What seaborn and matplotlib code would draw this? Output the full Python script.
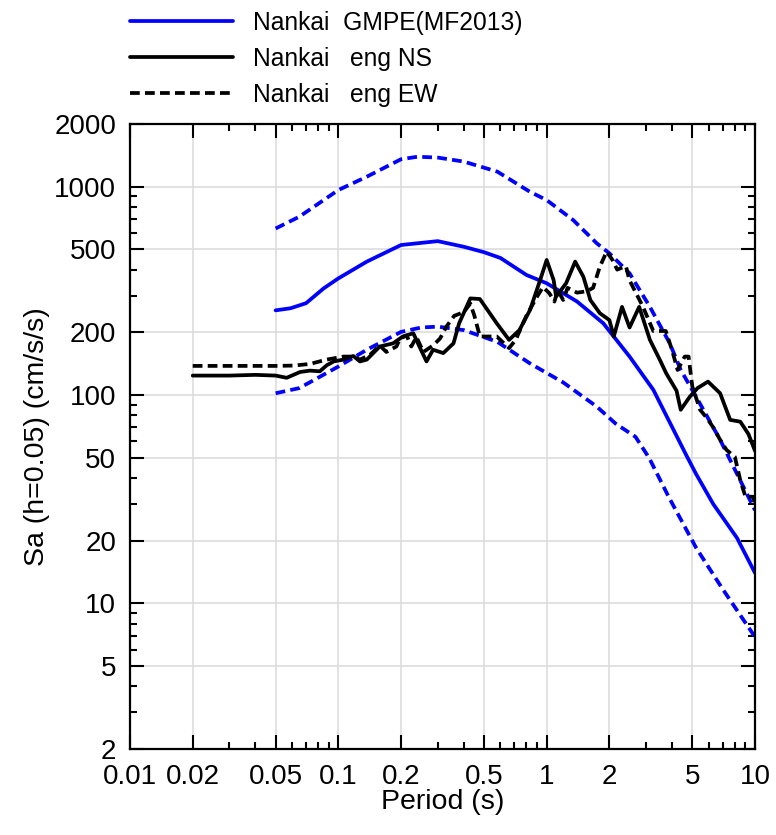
import matplotlib
matplotlib.use("Agg")
import matplotlib.pyplot as plt
import seaborn as sns
from matplotlib.ticker import FixedLocator, FixedFormatter, NullFormatter

# GMPE (MF2013) median and +/- sigma
period_med = [0.05, 0.059, 0.07, 0.085, 0.1, 0.137, 0.2, 0.3, 0.4, 0.5, 0.6, 0.8, 1.0,
              1.4, 1.87, 2.5, 3.25, 4.7, 5.2, 6.3, 8.2, 10]
sa_med = [255, 261, 276, 325, 363, 437, 525, 548, 515, 485, 455, 377, 344,
          281, 221, 153, 106, 51, 42, 30, 20.6, 14]

period_up = [0.05, 0.065, 0.1, 0.137, 0.2, 0.24, 0.3, 0.4, 0.58, 0.83, 1.0, 1.34, 1.74,
             2.0, 2.5, 3.13, 3.9, 4.4, 5.25, 6.8, 10]
sa_up = [630, 718, 964, 1117, 1355, 1393, 1380, 1320, 1181, 946, 863, 692, 535,
         479, 384, 265, 177, 132, 97, 61, 28]

period_lo = [0.05, 0.065, 0.1, 0.137, 0.2, 0.25, 0.3, 0.4, 0.58, 0.83, 1.2, 1.74, 2.14,
             2.67, 3.1, 3.88, 5.23, 7.0, 10]
sa_lo = [102, 108, 137, 165, 201, 211, 213, 205, 180, 142, 115, 88, 73,
         63, 50, 32, 18.4, 11.7, 6.9]

# observed engineering bedrock spectra
period_ns = [0.02, 0.03, 0.04, 0.05, 0.0565, 0.0655, 0.073, 0.0815, 0.088, 0.095, 0.106,
             0.118, 0.127, 0.137, 0.158, 0.183, 0.204, 0.229, 0.247, 0.265, 0.285, 0.319,
             0.357, 0.38, 0.43, 0.478, 0.576, 0.66, 0.74, 0.832, 0.93, 1.0, 1.08, 1.11,
             1.24, 1.37, 1.5, 1.62, 1.8, 2.0, 2.1, 2.3, 2.5, 2.78, 3.13, 3.5, 3.75, 4.2,
             4.4, 4.86, 5.3, 5.95, 6.8, 7.6, 8.5, 9.3, 10]
sa_ns = [124, 124, 125, 124, 121, 129, 131, 130, 139, 145, 148,
         154, 145, 148, 171, 177, 191, 198, 168, 145, 165, 159,
         177, 221, 291, 289, 221, 184, 205, 256, 356, 445, 356, 297,
         344, 437, 370, 286, 247, 229, 191, 265, 211, 265, 184, 147, 127, 105,
         85, 98, 108, 116, 102, 76, 74.5, 65, 54]

period_ew = [0.02, 0.03, 0.04, 0.05, 0.061, 0.073, 0.088, 0.106, 0.118, 0.127, 0.142,
             0.158, 0.17, 0.19, 0.198, 0.213, 0.224, 0.237, 0.256, 0.285, 0.308, 0.33,
             0.36, 0.4, 0.43, 0.45, 0.478, 0.576, 0.66, 0.71, 0.8, 0.9, 0.96, 1.03, 1.09,
             1.13, 1.2, 1.26, 1.4, 1.56, 1.67, 1.8, 1.94, 2.07, 2.18, 2.4, 2.5, 2.9, 3.25,
             3.73, 4.0, 4.25, 4.6, 4.8, 5.0, 5.45, 5.85, 6.3, 6.8, 7.3, 8.0, 8.5, 9.0,
             9.8, 10]
sa_ew = [138, 138, 138, 138, 138.5, 141, 148, 153, 153, 148, 156,
         173, 161, 171, 187, 193, 171, 190, 161, 173, 187, 213,
         240, 250, 275, 240, 191, 191, 168, 184, 241, 297, 330, 308, 281,
         319, 286, 327, 310, 315, 327, 413, 488, 445, 400, 416, 355, 265, 203,
         203, 164, 132, 153, 153, 110, 85, 78, 70, 61, 54.5, 50.6, 39, 32.5,
         32.5, 30]

x_major = [0.01, 0.02, 0.05, 0.1, 0.2, 0.5, 1, 2, 5, 10]
x_labels = ["0.01", "0.02", "0.05", "0.1", "0.2", "0.5", "1", "2", "5", "10"]
y_major = [2, 5, 10, 20, 50, 100, 200, 500, 1000, 2000]
y_labels = ["2", "5", "10", "20", "50", "100", "200", "500", "1000", "2000"]

sns.set_theme(style="ticks")
plt.rcParams["font.family"] = ["Liberation Sans", "DejaVu Sans"]
plt.rcParams["text.color"] = "black"

fig = plt.figure(figsize=(7.76, 8.35), dpi=100)
ax = fig.add_axes([130 / 776, 1 - 749 / 835, 625 / 776, 625 / 835])

blue = "#0000ff"
dash = (0, (2.6, 1.4))
lw = 2.7
sns.lineplot(x=period_med, y=sa_med, ax=ax, color=blue, lw=lw, label="Nankai  GMPE(MF2013)")
sns.lineplot(x=period_up, y=sa_up, ax=ax, color=blue, lw=lw, linestyle=dash)
sns.lineplot(x=period_lo, y=sa_lo, ax=ax, color=blue, lw=lw, linestyle=dash)
sns.lineplot(x=period_ns, y=sa_ns, ax=ax, color="black", lw=lw, label="Nankai   eng NS")
sns.lineplot(x=period_ew, y=sa_ew, ax=ax, color="black", lw=lw, linestyle=dash,
             label="Nankai   eng EW")

ax.set_xscale("log")
ax.set_yscale("log")
ax.set_xlim(0.01, 10)
ax.set_ylim(2, 2000)

x_minor = [d * m for d in (0.01, 0.1, 1) for m in (3, 4, 6, 7, 8, 9)]
y_minor = [d * m for d in (1, 10, 100) for m in (3, 4, 6, 7, 8, 9)]
ax.xaxis.set_major_locator(FixedLocator(x_major))
ax.xaxis.set_major_formatter(FixedFormatter(x_labels))
ax.xaxis.set_minor_locator(FixedLocator(x_minor))
ax.xaxis.set_minor_formatter(NullFormatter())
ax.yaxis.set_major_locator(FixedLocator(y_major))
ax.yaxis.set_major_formatter(FixedFormatter(y_labels))
ax.yaxis.set_minor_locator(FixedLocator(y_minor))
ax.yaxis.set_minor_formatter(NullFormatter())

ax.tick_params(which="both", direction="in", top=True, right=True, width=1.5,
               color="black", labelcolor="black", labelsize=20)
ax.tick_params(which="major", length=10)
ax.tick_params(which="minor", length=5)
ax.tick_params(axis="x", pad=11)
ax.tick_params(axis="y", pad=10)
for s in ax.spines.values():
    s.set_color("black")
    s.set_linewidth(1.6)

ax.grid(which="major", color="#dddddd", lw=1.2)
ax.set_axisbelow(True)

ax.set_xlabel("Period (s)", fontsize=20.5, color="black")
ax.set_ylabel("Sa (h=0.05) (cm/s/s)", fontsize=20.5, color="black")
ax.xaxis.set_label_coords(0.5, -0.064)
ax.yaxis.set_label_coords(-0.128, 0.5)

handles, labels = ax.get_legend_handles_labels()
ax.legend(handles, labels, loc="upper left", bbox_to_anchor=(130 / 776, 1 - 11 / 835),
          bbox_transform=fig.transFigure, frameon=False, fontsize=17.7,
          handlelength=4.2, handletextpad=0.8, labelspacing=0.48,
          borderpad=0, borderaxespad=0)

fig.savefig("out.png", dpi=100)
